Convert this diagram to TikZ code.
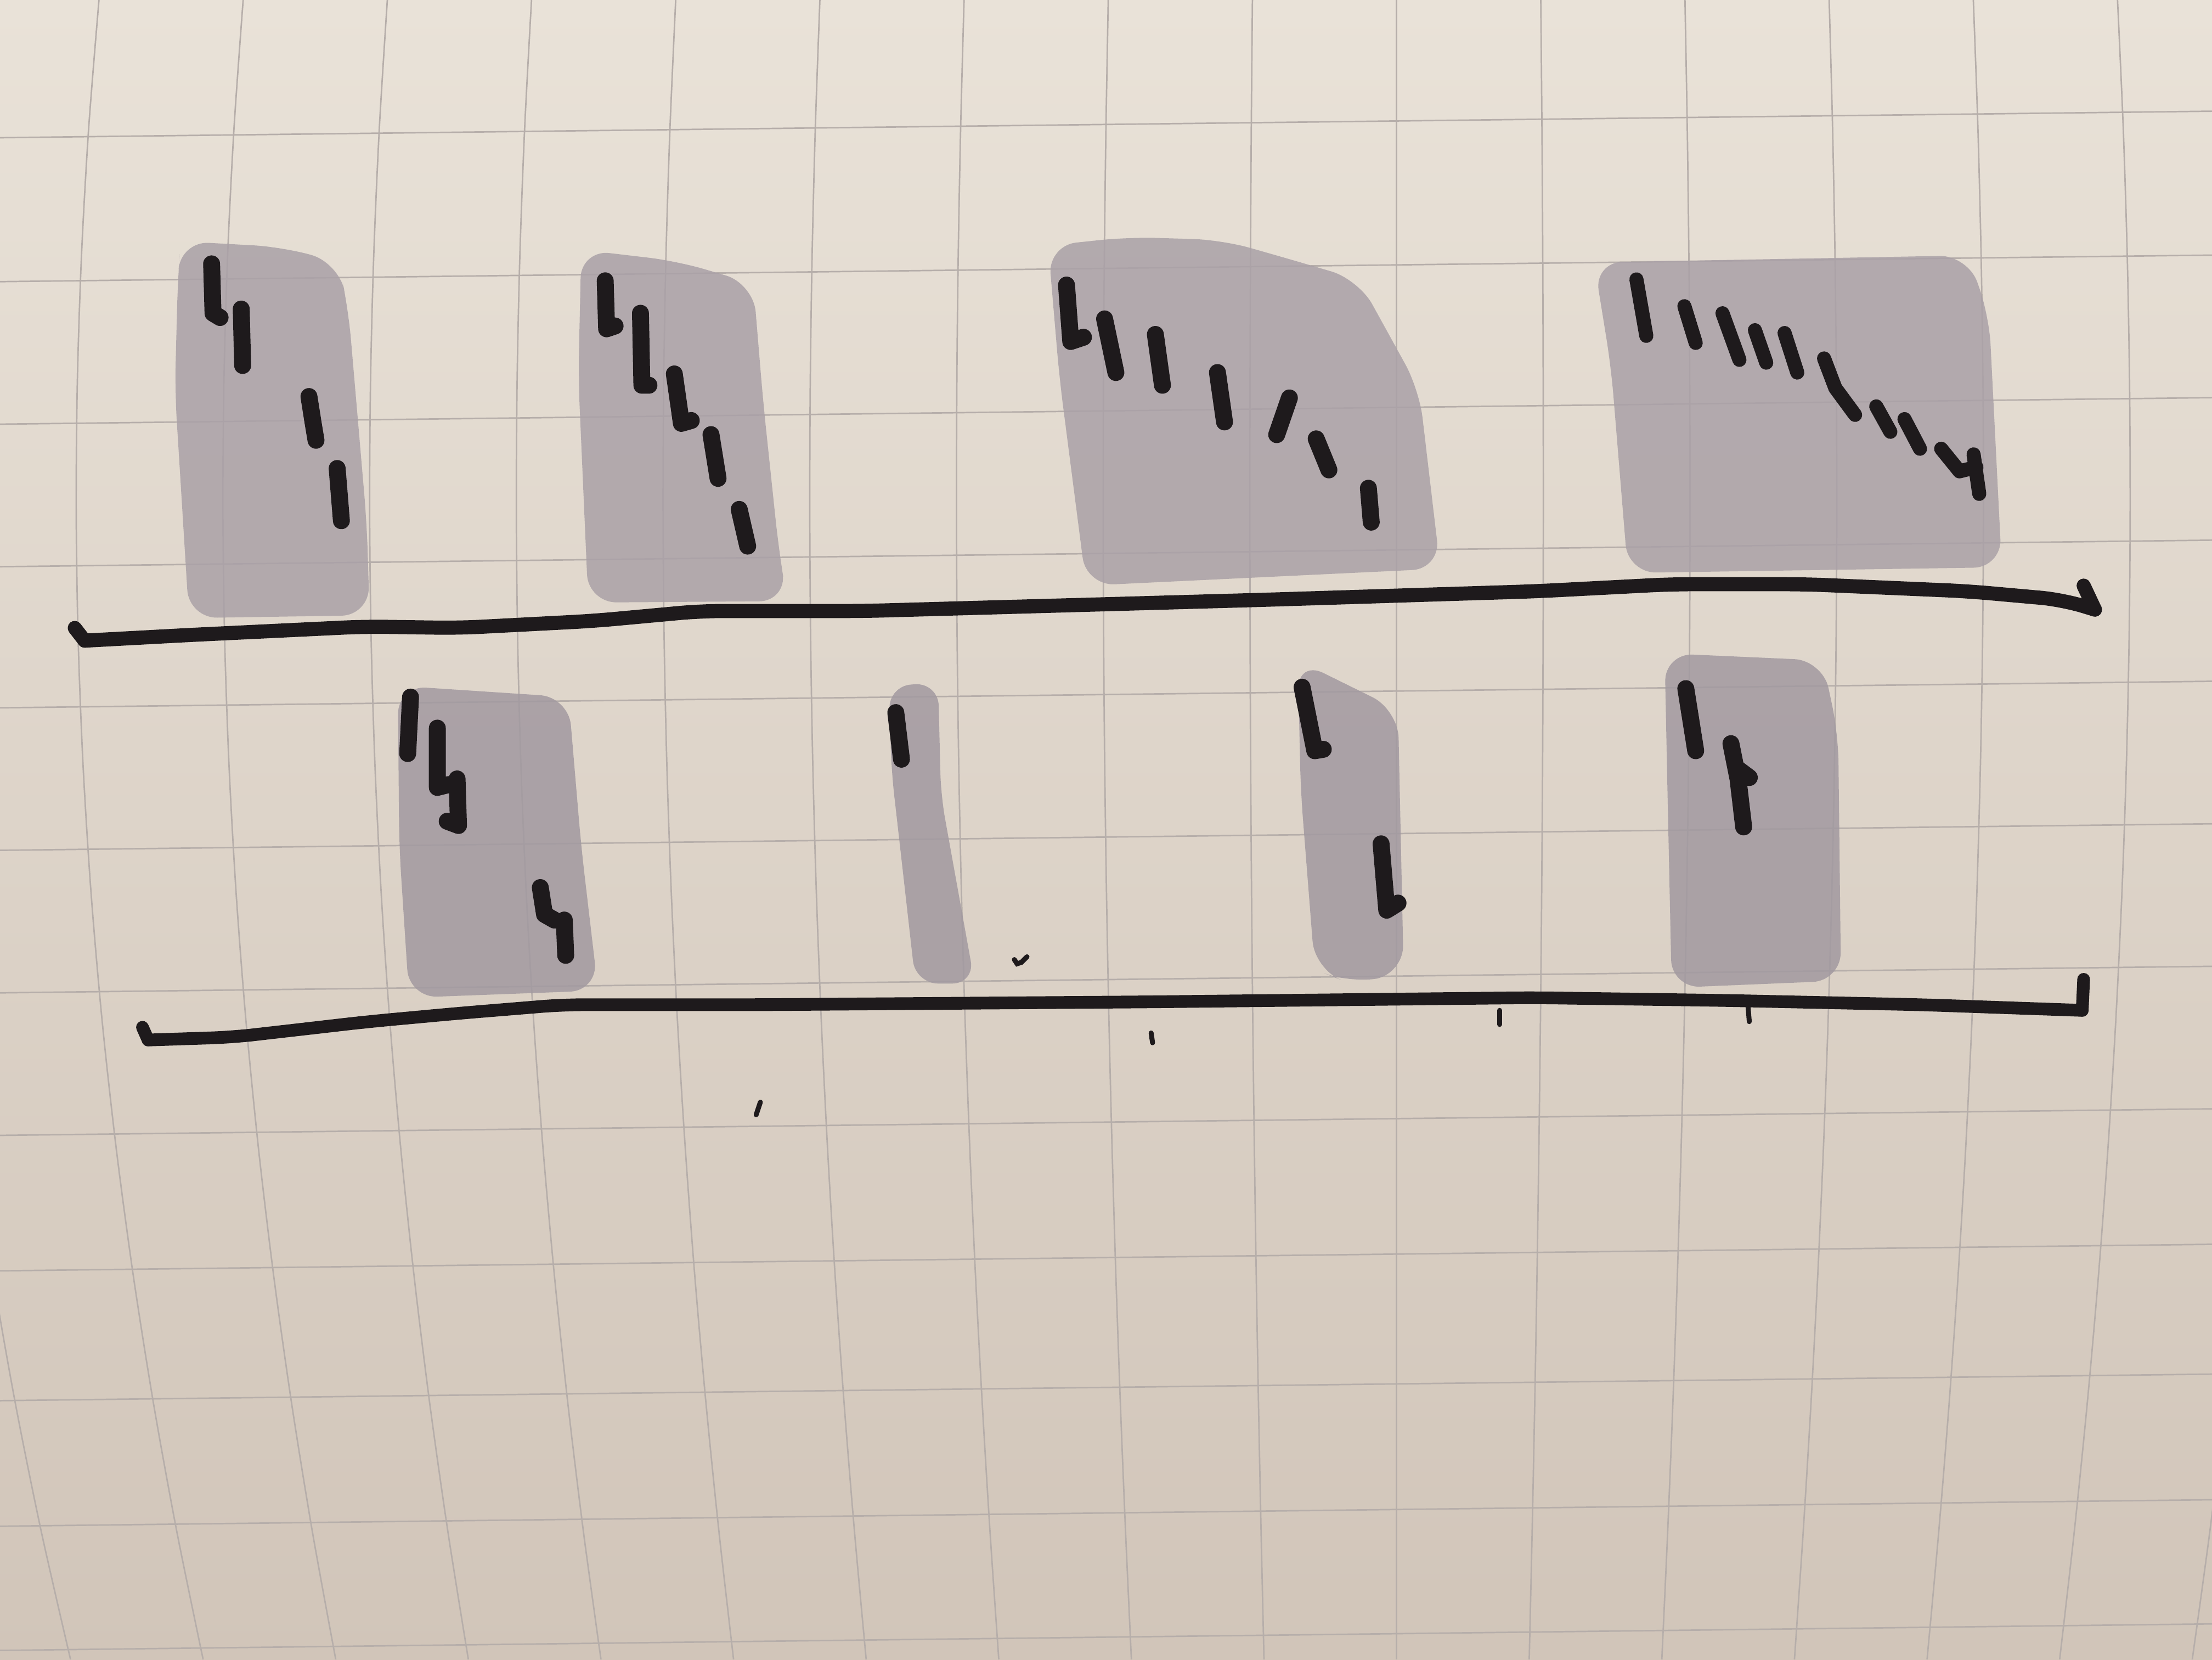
\documentclass[tikz,border=0pt]{standalone}
\definecolor{papertop}{RGB}{233,226,216}
\definecolor{paperbottom}{RGB}{209,197,185}
\definecolor{gridgray}{RGB}{182,174,170}
\definecolor{marker}{RGB}{170,161,167}
\definecolor{markerdark}{RGB}{162,153,160}
\definecolor{ink}{RGB}{30,26,28}
\begin{document}
\begin{tikzpicture}[x=0.1mm, y=-0.1mm,
  gridline/.style={draw=gridgray, line width=0.3pt},
  markerbox/.style={fill=marker, fill opacity=0.85, rounded corners=2mm},
  markerlow/.style={markerbox, fill=markerdark},
  penmark/.style={draw=ink, line width=1.2mm, line cap=round, line join=round},
  finemark/.style={penmark, line width=1mm},
  timeline/.style={draw=ink, line width=1mm, line cap=round, line join=round},
  speck/.style={draw=ink, line width=0.35mm, line cap=round}
]
\useasboundingbox (0,0) rectangle (1568,1176);
\shade[top color=papertop, bottom color=paperbottom] (0,0) rectangle (1568,1176);

\begin{scope}
\clip (0,0) rectangle (1568,1176);
\foreach \k in {-10,...,6}
  \draw[gridline] plot[domain=0:1176, samples=14, smooth] ({990+\k*(104-10*((\x-350)/826)^2)}, \x);
\foreach \h in {88,190,291,392,492,593,694,795,891,983,1072,1160}
  \draw[gridline] plot[domain=0:1568, samples=8] (\x, {\h+(800-\x)*0.012});
\end{scope}

\fill[markerbox] (126,200) -- (128,171) -- (200,175) -- (240,186) -- (247,220) -- (260,371) -- (262,436) -- (134,438) -- (124,277) -- cycle;
\fill[markerbox] (410,268) -- (412,177) -- (480,185) -- (534,201) -- (541,285) -- (552,389) -- (558,426) -- (417,427) -- cycle;
\fill[markerbox] (751,268) -- (743,174) -- (800,168) -- (866,170) -- (905,181) -- (963,198) -- (1006,276) -- (1021,403) -- (770,415) -- cycle;
\fill[markerbox] (1142,260) -- (1130,186) -- (1395,181) -- (1410,224) -- (1419,402) -- (1154,406) -- cycle;
\fill[markerlow] (283,600) -- (282,486) -- (403,494) -- (412,600) -- (424,702) -- (290,707) -- cycle;
\fill[markerlow, rounded corners=1.6mm] (632,547) -- (630,486) -- (665,484) -- (667,564) -- (691,697) -- (649,697) -- cycle;
\fill[markerlow] (922,560) -- (920,468) -- (991,503) -- (995,690) -- (957,697) -- (932,687) -- cycle;
\fill[markerlow] (1182,560) -- (1180,463) -- (1292,468) -- (1303,520) -- (1305,695) -- (1185,700) -- cycle;

\draw[penmark] (150,187) -- (151,222) -- (156,225);
\draw[penmark] (171,219) -- (172,259);
\draw[penmark] (219,281) -- (222,300) -- (224,312);
\draw[penmark] (239,332) -- (242,369);

\draw[penmark] (429,199) -- (430,233) -- (436,231);
\draw[penmark] (454,222) -- (455,273) -- (460,273);
\draw[penmark] (478,265) -- (483,300) -- (490,298);
\draw[penmark] (504,308) -- (509,339);
\draw[penmark] (524,361) -- (530,387);

\draw[penmark] (756,202) -- (759,242) -- (768,239);
\draw[penmark] (783,226) -- (791,264);
\draw[penmark] (819,237) -- (824,273);
\draw[penmark] (863,264) -- (868,299);
\draw[penmark] (914,282) -- (905,308);
\draw[penmark] (933,311) -- (942,333);
\draw[penmark] (970,346) -- (972,370);

\draw[finemark] (1160,198) -- (1167,238);
\draw[finemark] (1194,217) -- (1202,243);
\draw[finemark] (1221,222) -- (1233,255);
\draw[finemark] (1244,234) -- (1252,257);
\draw[finemark] (1265,236) -- (1274,264);
\draw[finemark] (1293,254) -- (1301,275) -- (1315,294);
\draw[finemark] (1330,288) -- (1340,306);
\draw[finemark] (1350,297) -- (1361,318);
\draw[finemark] (1376,318) -- (1389,334) -- (1401,331);
\draw[finemark] (1399,322) -- (1403,350);

\draw[penmark] (291,494) -- (289,534);
\draw[penmark] (310,516) -- (310,558) -- (318,556);
\draw[penmark] (324,552) -- (325,585) -- (317,582);
\draw[penmark] (383,629) -- (386,648) -- (393,652);
\draw[penmark] (400,652) -- (401,677);

\draw[penmark] (635,505) -- (639,538);

\draw[penmark] (923,487) -- (932,532) -- (938,531);
\draw[penmark] (979,598) -- (983,645) -- (991,640);

\draw[penmark] (1195,488) -- (1202,532);
\draw[penmark] (1227,527) -- (1232,552) -- (1236,586);
\draw[penmark] (1232,545) -- (1240,551);

\draw[timeline, rounded corners=1.5mm] (60,454) -- (134,450) -- (259,444) -- (325,445) -- (421,440) -- (497,433)
  -- (612,433) -- (755,429) -- (898,425) -- (1089,419) -- (1185,414) -- (1280,414) -- (1395,419)
  -- (1462,425) -- (1485,432);
\draw[timeline] (53,445) -- (60,454);
\draw[timeline] (1485,432) -- (1477,415);

\draw[timeline, line width=0.9mm, rounded corners=1.5mm] (105,737) -- (165,735) -- (261,724) -- (326,718) -- (399,712)
  -- (537,712) -- (812,710) -- (1087,707) -- (1225,709) -- (1362,712) -- (1476,716);
\draw[timeline, line width=0.9mm] (101,728) -- (105,737);
\draw[timeline, line width=0.9mm] (1476,716) -- (1477,694);

\draw[speck] (719,680) -- (721,683) -- (724,682) -- (728,678);
\draw[speck] (816,732) -- (817,739);
\draw[speck] (1063,716) -- (1063,726);
\draw[speck] (1239,712) -- (1240,724);
\draw[speck] (536,790) -- (539,781);
\end{tikzpicture}
\end{document}
